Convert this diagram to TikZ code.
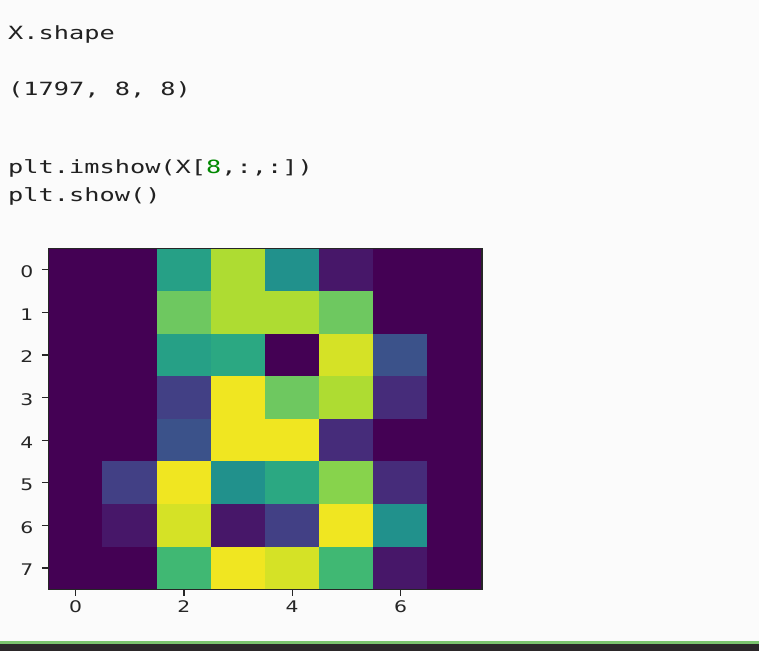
\documentclass[tikz,border=0pt]{standalone}
\usepackage{fontspec}
\newfontfamily\codefont[FakeStretch=1.39]{DejaVu Sans Mono}
\newfontfamily\tickfont[FakeStretch=1.27]{DejaVu Sans}
\definecolor{bgc}{RGB}{251,251,251}
\definecolor{txt}{RGB}{33,33,33}
\definecolor{numc}{RGB}{0,136,0}
\definecolor{axc}{RGB}{38,38,38}
\definecolor{barg}{RGB}{123,196,110}
\definecolor{bard}{RGB}{43,39,41}
\definecolor{v0}{RGB}{68,1,84}
\definecolor{v1}{RGB}{71,23,105}
\definecolor{v2}{RGB}{70,44,122}
\definecolor{v3}{RGB}{66,64,133}
\definecolor{v4}{RGB}{59,82,138}
\definecolor{v8}{RGB}{33,145,140}
\definecolor{v9}{RGB}{38,160,134}
\definecolor{v10}{RGB}{43,168,130}
\definecolor{v11}{RGB}{64,184,115}
\definecolor{v12}{RGB}{110,200,96}
\definecolor{v13}{RGB}{135,211,76}
\definecolor{v14}{RGB}{174,220,50}
\definecolor{v15}{RGB}{213,226,38}
\definecolor{v16}{RGB}{240,230,33}
\tikzset{
  codetext/.style={inner sep=0pt, anchor=base west, text=txt, font=\codefont\fontsize{18.2}{20}\selectfont},
  ylab/.style={inner sep=0pt, anchor=base east, text=axc, font=\tickfont\fontsize{16}{18}\selectfont},
  xlab/.style={inner sep=0pt, anchor=base, text=axc, font=\tickfont\fontsize{16}{18}\selectfont},
  tickline/.style={draw=axc, line width=1.3pt},
}
\begin{document}
\begin{tikzpicture}[x=1pt,y=-1pt]
\useasboundingbox (0,0) rectangle (759,651);
\fill[bgc] (0,0) rectangle (759,651);
% code cells
\node[codetext] (c1) at (8,39.3) {X.shape};
\node[codetext] (c2) at (8,95.3) {(1797, 8, 8)};
\node[codetext] (c3) at (8,173.3) {plt.imshow(X[\textcolor{numc}{8},:,:])};
\node[codetext] (c4) at (8,201.7) {plt.show()};
% image
\foreach \row [count=\r from 0] in {
  {0,0,9,14,8,1,0,0},
  {0,0,12,14,14,12,0,0},
  {0,0,9,10,0,15,4,0},
  {0,0,3,16,12,14,2,0},
  {0,0,4,16,16,2,0,0},
  {0,3,16,8,10,13,2,0},
  {0,1,15,1,3,16,8,0},
  {0,0,11,16,15,11,1,0}} {
  \foreach \v [count=\c from 0] in \row {
    \fill[color=v\v, draw=v\v, line width=0.4pt]
      (48.5+\c*54.15, 248.5+\r*42.6) rectangle (48.5+\c*54.15+54.15, 248.5+\r*42.6+42.6);
  }
}
\draw[axc, line width=1.6pt] (48.5,248.5) rectangle (481.7,589.3);
% y ticks
\foreach \i in {0,...,7} {
  \draw[tickline] (41.8,248.5+\i*42.6+21.3) -- (48.5,248.5+\i*42.6+21.3);
  \node[ylab] (yl\i) at (33.6,248.5+\i*42.6+21.3+7.8) {\i};
}
% x ticks
\foreach \i in {0,2,4,6} {
  \draw[tickline] (48.5+\i*54.15+27.07,589.3) -- (48.5+\i*54.15+27.07,595.5);
  \node[xlab] (xl\i) at (48.5+\i*54.15+27.07,612.7) {\i};
}
% bottom bar
\fill[barg] (0,641.3) rectangle (759,643.6);
\fill[bard] (0,643.6) rectangle (759,651);
\end{tikzpicture}
\end{document}
